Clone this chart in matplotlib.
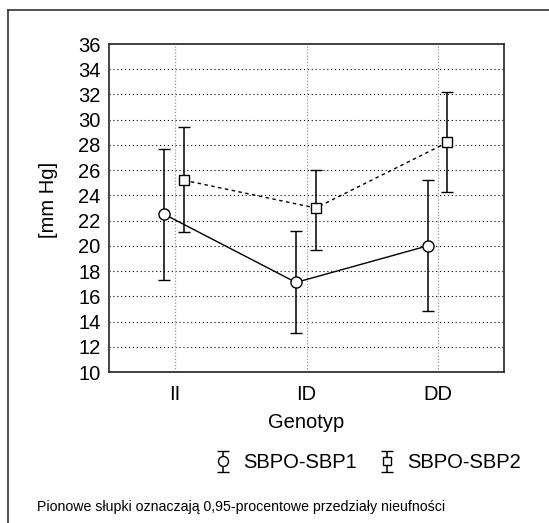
import matplotlib
matplotlib.use("Agg")
import matplotlib.pyplot as plt
from matplotlib.lines import Line2D

plt.rcParams['font.family'] = ['Liberation Sans', 'DejaVu Sans']

# data
genotypes = ["II", "ID", "DD"]
sbp1_mean = [22.5, 17.1, 20.0]
sbp1_low = [17.3, 13.1, 14.8]
sbp1_high = [27.7, 21.2, 25.2]
sbp2_mean = [25.2, 23.0, 28.2]
sbp2_low = [21.1, 19.7, 24.3]
sbp2_high = [29.4, 26.0, 32.2]
yticks = list(range(10, 37, 2))

fig = plt.figure(figsize=(5.49, 5.23), dpi=100)
ax = fig.add_axes([109 / 549, 1 - 372 / 523, 395 / 549, 328 / 523])

xpos = list(range(len(genotypes)))
x1 = [x - 0.08 for x in xpos]
x2 = [x + 0.07 for x in xpos]

# grid
for y in yticks[1:-1]:
    ax.axhline(y, color="black", lw=0.8, ls=(0, (1, 2.5)), zorder=0)
for x in xpos:
    ax.axvline(x, color="#999999", lw=0.9, ls=(0, (1, 1.5)), zorder=0)

# connecting lines
ax.plot(x1, sbp1_mean, color="black", lw=1.0, zorder=2)
ax.plot(x2, sbp2_mean, color="black", lw=1.0, ls=(0, (2.5, 2.5)), zorder=2)

err1 = [[m - l for m, l in zip(sbp1_mean, sbp1_low)], [h - m for m, h in zip(sbp1_mean, sbp1_high)]]
err2 = [[m - l for m, l in zip(sbp2_mean, sbp2_low)], [h - m for m, h in zip(sbp2_mean, sbp2_high)]]

e1 = ax.errorbar(x1, sbp1_mean, yerr=err1, fmt="o", ms=8, mfc="white", mec="black", mew=1.0,
                 ecolor="black", elinewidth=1.1, capsize=4.5, capthick=2.5, zorder=3, label="SBPO-SBP1")
e2 = ax.errorbar(x2, sbp2_mean, yerr=err2, fmt="s", ms=7, mfc="white", mec="black", mew=1.0,
                 ecolor="black", elinewidth=1.1, capsize=4.5, capthick=2.5, zorder=3, label="SBPO-SBP2")

ax.set_xlim(-0.5, 2.5)
ax.set_ylim(10, 36)
ax.set_yticks(yticks)
ax.set_xticks(xpos)
ax.set_xticklabels(genotypes)
ax.tick_params(length=0, labelsize=14.5)
ax.tick_params(axis="y", pad=6)
ax.tick_params(axis="x", pad=9)
for s in ax.spines.values():
    s.set_color("#333333")
    s.set_linewidth(1.3)

ax.set_xlabel("Genotyp", fontsize=14.5, labelpad=7)
fig.text(48 / 549, 1 - 200 / 523, "[mm Hg]", rotation=90, fontsize=14.5, ha="center", va="center")

fig.legend(handles=[e1, e2], loc="center", bbox_to_anchor=(368 / 549, 1 - 463 / 523), ncol=2,
           frameon=False, fontsize=14.5, handlelength=0.8, handletextpad=0.6, columnspacing=1.1,
           markerscale=0.9)

fig.text(37 / 549, 1 - 507 / 523, "Pionowe słupki oznaczają 0,95-procentowe przedziały nieufności",
         fontsize=10.2, ha="left", va="center")

# outer frame (top and left only)
fig.add_artist(Line2D([8 / 549, 1], [1 - 10 / 523, 1 - 10 / 523], color="#333333", lw=1.2))
fig.add_artist(Line2D([8 / 549, 8 / 549], [0, 1 - 10 / 523], color="#333333", lw=1.2))

fig.savefig("out.png", dpi=100)
